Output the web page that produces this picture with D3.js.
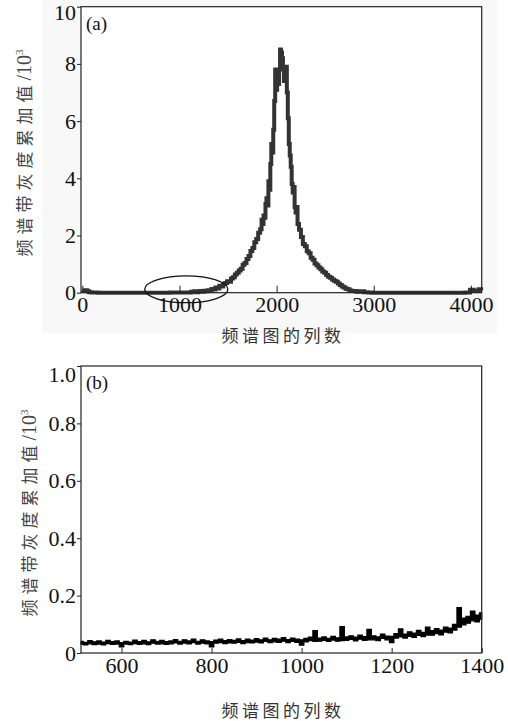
<!DOCTYPE html>
<html>
<head>
<meta charset="utf-8">
<script src="https://cdn.jsdelivr.net/npm/d3@7"></script>
<style>
  body { margin: 0; background: #fff; }
</style>
</head>
<body>
<svg id="chart" width="508" height="721"></svg>
<script>
// (a) column index of the spectrum image and accumulated grey value (x10^3)
const colsA = [0, 20, 40, 60, 80, 120, 200, 400, 600, 800, 1000, 1100, 1140, 1160, 1180, 1200, 1220, 1240, 1260, 1280,
    1300, 1320, 1340, 1360, 1380, 1400, 1420, 1440, 1460, 1480, 1500, 1520, 1540, 1560, 1580, 1600, 1620, 1640, 1660, 1680,
    1700, 1720, 1740, 1760, 1780, 1800, 1820, 1840, 1850, 1860, 1870, 1880, 1890, 1900, 1910, 1920, 1930, 1940, 1950, 1960,
    1970, 1980, 1990, 2000, 2010, 2020, 2030, 2040, 2050, 2060, 2070, 2080, 2090, 2100, 2110, 2120, 2130, 2140, 2150, 2160,
    2170, 2180, 2190, 2200, 2210, 2220, 2240, 2260, 2280, 2300, 2320, 2340, 2360, 2380, 2400, 2420, 2440, 2460, 2480, 2500,
    2520, 2540, 2560, 2580, 2600, 2620, 2640, 2660, 2680, 2700, 2720, 2740, 2760, 2780, 2800, 2840, 2880, 2920, 2960, 3000,
    3500, 3900, 3980, 4000, 4060, 4100, 4110];
const valsA = [0.08, 0.06, 0.09, 0.05, 0.02, 0.01, 0, 0, 0, 0, 0.01, 0.01, 0.03, 0.05, 0.02, 0.04, 0.06, 0.03, 0.07, 0.05,
    0.09, 0.08, 0.13, 0.11, 0.18, 0.15, 0.24, 0.22, 0.30, 0.34, 0.40, 0.38, 0.50, 0.54, 0.64, 0.70, 0.78, 0.84, 0.98, 1.04,
    1.18, 1.28, 1.46, 1.56, 1.76, 1.88, 2.10, 2.22, 2.55, 2.40, 2.70, 2.62, 3.10, 3.30, 3.05, 3.90, 3.60, 4.50, 5.20, 4.90,
    5.70, 6.70, 7.80, 7.10, 7.50, 7.30, 7.80, 8.50, 8.40, 8.20, 7.80, 7.40, 7.70, 7.90, 7.00, 6.10, 5.20, 4.80, 4.40, 3.80,
    3.50, 3.70, 3.00, 2.80, 3.00, 2.40, 2.20, 1.95, 1.70, 1.62, 1.45, 1.38, 1.22, 1.15, 1.02, 0.96, 0.88, 0.82, 0.74, 0.70,
    0.62, 0.56, 0.52, 0.46, 0.42, 0.38, 0.32, 0.27, 0.22, 0.18, 0.14, 0.12, 0.08, 0.06, 0.06, 0.03, 0.05, 0.02, 0.01, 0,
    0, 0, 0.01, 0.10, 0.07, 0.12, 0.09];
const ticksA_x = [0, 1000, 2000, 3000, 4000];
const ticksA_y = [0, 2, 4, 6, 8, 10];

// (b) enlarged part of (a), columns 510-1400: lower and upper edge of the noisy trace
const colsB = [510, 520, 530, 540, 550, 560, 570, 580, 590, 600, 610, 620, 630, 640, 650, 660, 670, 680, 690, 700,
    710, 720, 730, 740, 750, 760, 770, 780, 790, 800, 810, 820, 830, 840, 850, 860, 870, 880, 890, 900,
    910, 920, 930, 940, 950, 960, 970, 980, 990, 1000, 1010, 1020, 1030, 1040, 1050, 1060, 1070, 1080, 1090, 1100,
    1110, 1120, 1130, 1140, 1150, 1160, 1170, 1180, 1190, 1200, 1210, 1220, 1230, 1240, 1250, 1260, 1270, 1280, 1290, 1300,
    1310, 1320, 1330, 1340, 1350, 1360, 1370, 1380, 1390, 1400];
const lowB = [0.031, 0.028, 0.032, 0.029, 0.031, 0.028, 0.033, 0.030, 0.031, 0.021,
    0.031, 0.029, 0.033, 0.030, 0.032, 0.029, 0.034, 0.031, 0.032, 0.030,
    0.032, 0.035, 0.031, 0.034, 0.032, 0.036, 0.031, 0.034, 0.032, 0.021,
    0.034, 0.036, 0.033, 0.035, 0.034, 0.037, 0.033, 0.036, 0.035, 0.038,
    0.035, 0.040, 0.036, 0.039, 0.037, 0.041, 0.036, 0.040, 0.037, 0.027,
    0.039, 0.043, 0.040, 0.041, 0.044, 0.040, 0.045, 0.041, 0.043, 0.044,
    0.047, 0.042, 0.048, 0.044, 0.046, 0.046, 0.043, 0.051, 0.046, 0.036,
    0.052, 0.056, 0.052, 0.058, 0.054, 0.061, 0.057, 0.062, 0.062, 0.067,
    0.063, 0.073, 0.070, 0.080, 0.090, 0.098, 0.104, 0.112, 0.108, 0.118];
const highB = [0.041, 0.037, 0.043, 0.039, 0.042, 0.038, 0.044, 0.040, 0.042, 0.036,
    0.041, 0.038, 0.045, 0.040, 0.044, 0.039, 0.046, 0.041, 0.044, 0.040,
    0.042, 0.047, 0.041, 0.046, 0.042, 0.048, 0.041, 0.046, 0.042, 0.040,
    0.045, 0.048, 0.043, 0.047, 0.044, 0.049, 0.043, 0.048, 0.045, 0.050,
    0.046, 0.052, 0.046, 0.051, 0.048, 0.054, 0.047, 0.052, 0.048, 0.046,
    0.051, 0.055, 0.078, 0.052, 0.056, 0.051, 0.058, 0.053, 0.092, 0.056,
    0.060, 0.055, 0.062, 0.057, 0.082, 0.060, 0.056, 0.066, 0.059, 0.058,
    0.068, 0.084, 0.066, 0.074, 0.069, 0.079, 0.072, 0.090, 0.078, 0.085,
    0.080, 0.090, 0.087, 0.100, 0.158, 0.122, 0.128, 0.146, 0.132, 0.140];
const ticksB_x = [600, 800, 1000, 1200, 1400];
const ticksB_y = [0, 0.2, 0.4, 0.6, 0.8, 1.0];

const xTitle = "频谱图的列数";
const yTitleCN = "频谱带灰度累加值";

const serif = "'Liberation Serif', 'DejaVu Serif', serif";
const svg = d3.select("#chart");

// faint scan backdrop behind panel (a)
svg.append("rect")
    .attr("x", 42).attr("y", 0).attr("width", 455).attr("height", 333)
    .attr("fill", "#f8f8f8");

function panel(opts) {
    const x = d3.scaleLinear().domain(opts.xDomain).range([81, 481.7]);
    const y = d3.scaleLinear().domain(opts.yDomain).range([opts.bottom, opts.top]);
    const g = svg.append("g");

    g.append("rect")
        .attr("x", 81).attr("y", opts.top)
        .attr("width", 400.7).attr("height", opts.bottom - opts.top)
        .attr("fill", "#fff");

    const marks = g.append("g");

    g.append("g")
        .attr("transform", "translate(0," + opts.bottom + ")")
        .call(d3.axisBottom(x).tickValues(opts.xTicks).tickFormat(d3.format("d"))
            .tickSizeInner(-opts.xTickLen).tickSizeOuter(0).tickPadding(4))
        .call(a => a.select(".domain").remove())
        .call(a => a.attr("font-family", serif).attr("font-size", 22))
        .call(a => a.selectAll(".tick line").attr("stroke", "#222"))
        .call(a => a.selectAll(".tick text").attr("fill", "#111"));

    g.append("g")
        .attr("transform", "translate(81,0)")
        .call(d3.axisLeft(y).tickValues(opts.yTicks).tickFormat(opts.yFormat)
            .tickSizeInner(4).tickSizeOuter(0).tickPadding(1))
        .call(a => a.select(".domain").remove())
        .call(a => a.attr("font-family", serif).attr("font-size", 22))
        .call(a => a.selectAll(".tick line").attr("stroke", "#222"))
        .call(a => a.selectAll(".tick text").attr("fill", "#111")
            .attr("dy", d => d === opts.yDomain[1] ? opts.topLabelDy : "0.32em"));

    // frame
    g.append("rect")
        .attr("x", 81).attr("y", opts.top)
        .attr("width", 400.7).attr("height", opts.bottom - opts.top)
        .attr("fill", "none").attr("stroke", "#222").attr("stroke-width", 1.2);

    g.append("text")
        .attr("x", 86).attr("y", opts.top + 23)
        .attr("font-family", serif)
        .attr("font-size", 19)
        .attr("fill", "#111")
        .text(opts.tag);

    g.append("text")
        .attr("x", 283).attr("y", opts.xTitleY)
        .attr("text-anchor", "middle")
        .attr("font-family", "Noto Sans CJK SC")
        .attr("font-size", 17)
        .attr("letter-spacing", 3.5)
        .attr("fill", "#333")
        .text(xTitle);

    const yt = g.append("text")
        .attr("transform", "translate(" + opts.yTitleX + "," + opts.yTitleCY + ") rotate(-90)")
        .attr("text-anchor", "middle")
        .attr("fill", "#444");
    yt.append("tspan")
        .attr("font-family", "Noto Sans CJK SC")
        .attr("font-size", 17)
        .attr("letter-spacing", 5)
        .text(yTitleCN);
    yt.append("tspan")
        .attr("font-family", serif)
        .attr("font-size", 20)
        .text("/10");
    yt.append("tspan")
        .attr("font-family", serif)
        .attr("font-size", 11)
        .attr("dy", -8)
        .text("3");

    return {x, y, g, marks};
}

const a = panel({
    xDomain: [-14, 4111], yDomain: [0, 10], top: 6.7, bottom: 292.7,
    xTicks: ticksA_x, yTicks: ticksA_y, yFormat: d3.format("d"), xTickLen: 7, topLabelDy: "0.6em",
    tag: "(a)", xTitleY: 342, yTitleX: 31, yTitleCY: 153
});

a.marks.append("path")
    .datum(valsA)
    .attr("fill", "none")
    .attr("stroke", "#333")
    .attr("stroke-width", 4)
    .attr("d", d3.line().curve(d3.curveStep)
        .x((d, i) => a.x(colsA[i]))
        .y(d => a.y(d)));

// ellipse marking the region enlarged in (b)
a.g.append("ellipse")
    .attr("cx", a.x(1070))
    .attr("cy", a.y(0.12))
    .attr("rx", a.x(1070 + 428) - a.x(1070))
    .attr("ry", a.y(0) - a.y(0.47))
    .attr("fill", "none")
    .attr("stroke", "#111")
    .attr("stroke-width", 1.3);

const b = panel({
    xDomain: [510, 1400], yDomain: [0, 1], top: 366, bottom: 653,
    xTicks: ticksB_x, yTicks: ticksB_y, yFormat: d => d === 0 ? "0" : d3.format(".1f")(d), xTickLen: 5,
    topLabelDy: "0.72em",
    tag: "(b)", xTitleY: 717, yTitleX: 36, yTitleCY: 513
});

b.marks.append("path")
    .datum(colsB)
    .attr("fill", "#000")
    .attr("stroke", "#000")
    .attr("stroke-width", 1.2)
    .attr("d", d3.area().curve(d3.curveStep)
        .x(d => b.x(d))
        .y0((d, i) => b.y(lowB[i]))
        .y1((d, i) => b.y(highB[i])));
</script>
</body>
</html>
